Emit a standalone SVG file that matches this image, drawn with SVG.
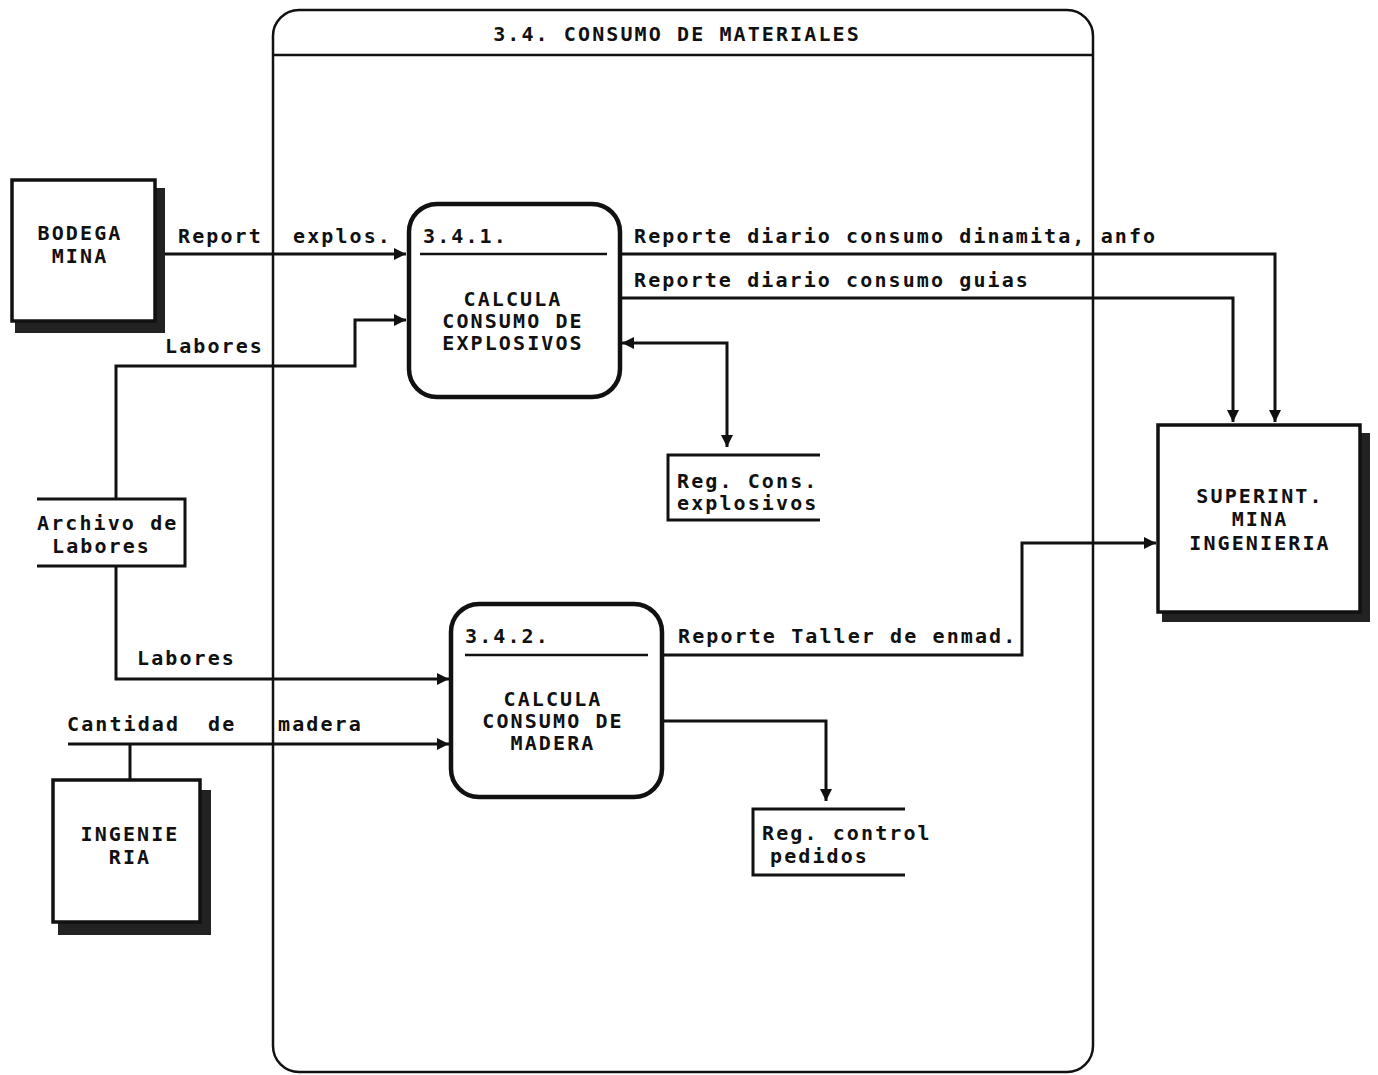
<svg xmlns="http://www.w3.org/2000/svg" width="1378" height="1075" viewBox="0 0 1378 1075">
<style>
text{font-family:"DejaVu Sans Mono","Liberation Mono",monospace;font-weight:bold;font-size:20px;letter-spacing:2.1px;fill:#111}
.c{text-anchor:middle}
.ln{fill:none;stroke:#111;stroke-width:3}
.box{fill:#fff;stroke:#111;stroke-width:3.5}
.sh{fill:#222}
.proc{fill:#fff;stroke:#111;stroke-width:4.5}
</style>
<defs>
<marker id="ah" viewBox="0 0 10 10" refX="10" refY="5" markerWidth="12" markerHeight="12" markerUnits="userSpaceOnUse" orient="auto-start-reverse">
<path d="M0,0 L10,5 L0,10 z" fill="#111"/>
</marker>
</defs>
<g id="container">
<rect x="273" y="10" width="820" height="1062" rx="26" fill="none" stroke="#111" stroke-width="2.5"/>
<line x1="273" y1="55" x2="1093" y2="55" stroke="#111" stroke-width="2.5"/>
<text x="677" y="41" class="c">3.4. CONSUMO DE MATERIALES</text>
</g>
<g id="connectors">
<path class="ln" d="M165,254 H406" marker-end="url(#ah)"/>
<path class="ln" d="M116,499 V366 H355 V320 H406" marker-end="url(#ah)"/>
<path class="ln" d="M620,254 H1275 V422" marker-end="url(#ah)"/>
<path class="ln" d="M620,298 H1233 V422" marker-end="url(#ah)"/>
<path class="ln" d="M622,343 H727 V447" marker-start="url(#ah)" marker-end="url(#ah)"/>
<path class="ln" d="M116,566 V679 H449" marker-end="url(#ah)"/>
<path class="ln" d="M68,744 H449" marker-end="url(#ah)"/>
<path class="ln" d="M130,744 V780"/>
<path class="ln" d="M662,655 H1022 V543 H1156" marker-end="url(#ah)"/>
<path class="ln" d="M662,721 H826 V801" marker-end="url(#ah)"/>
<text><tspan x="178" y="243">Report</tspan><tspan x="293" y="243">explos.</tspan></text>
<text x="165" y="353">Labores</text>
<text x="634" y="243">Reporte diario consumo dinamita, anfo</text>
<text x="634" y="287">Reporte diario consumo guias</text>
<text x="137" y="665">Labores</text>
<text><tspan x="67" y="731">Cantidad</tspan><tspan x="208" y="731">de</tspan><tspan x="278" y="731">madera</tspan></text>
<text x="678" y="643">Reporte Taller de enmad.</text>
</g>
<g id="bodega-mina">
<rect class="sh" x="155" y="188" width="10" height="145"/>
<rect class="sh" x="15" y="321" width="150" height="12"/>
<rect class="box" x="12" y="180" width="143" height="141"/>
<text x="80" y="240" class="c">BODEGA</text>
<text x="80" y="263" class="c">MINA</text>
</g>
<g id="p341">
<rect class="proc" x="409" y="204" width="211" height="193" rx="28"/>
<line x1="420" y1="254" x2="607" y2="254" stroke="#111" stroke-width="2.5"/>
<text x="423" y="243">3.4.1.</text>
<text x="513" y="306" class="c">CALCULA</text>
<text x="513" y="328" class="c">CONSUMO DE</text>
<text x="513" y="350" class="c">EXPLOSIVOS</text>
</g>
<g id="reg-cons-explosivos">
<path class="ln" d="M820,455 H668 V520 H820"/>
<text x="677" y="488">Reg. Cons.</text>
<text x="677" y="510">explosivos</text>
</g>
<g id="superint">
<rect class="sh" x="1360" y="433" width="10" height="187"/>
<rect class="sh" x="1162" y="610" width="208" height="12"/>
<rect class="box" x="1158" y="425" width="202" height="187"/>
<text x="1260" y="503" class="c">SUPERINT.</text>
<text x="1260" y="526" class="c">MINA</text>
<text x="1260" y="550" class="c">INGENIERIA</text>
</g>
<g id="archivo-labores">
<path class="ln" d="M37,499 H185 V566 H37"/>
<text x="37" y="530">Archivo de</text>
<text x="52" y="553">Labores</text>
</g>
<g id="p342">
<rect class="proc" x="451" y="604" width="211" height="193" rx="28"/>
<line x1="465" y1="655" x2="648" y2="655" stroke="#111" stroke-width="2.5"/>
<text x="465" y="643">3.4.2.</text>
<text x="553" y="706" class="c">CALCULA</text>
<text x="553" y="728" class="c">CONSUMO DE</text>
<text x="553" y="750" class="c">MADERA</text>
</g>
<g id="reg-control-pedidos">
<path class="ln" d="M905,809 H753 V875 H905"/>
<text x="762" y="840">Reg. control</text>
<text x="770" y="863">pedidos</text>
</g>
<g id="ingenieria">
<rect class="sh" x="200" y="790" width="11" height="145"/>
<rect class="sh" x="58" y="922" width="153" height="13"/>
<rect class="box" x="53" y="780" width="147" height="142"/>
<text x="130" y="841" class="c">INGENIE</text>
<text x="130" y="864" class="c">RIA</text>
</g>
</svg>
